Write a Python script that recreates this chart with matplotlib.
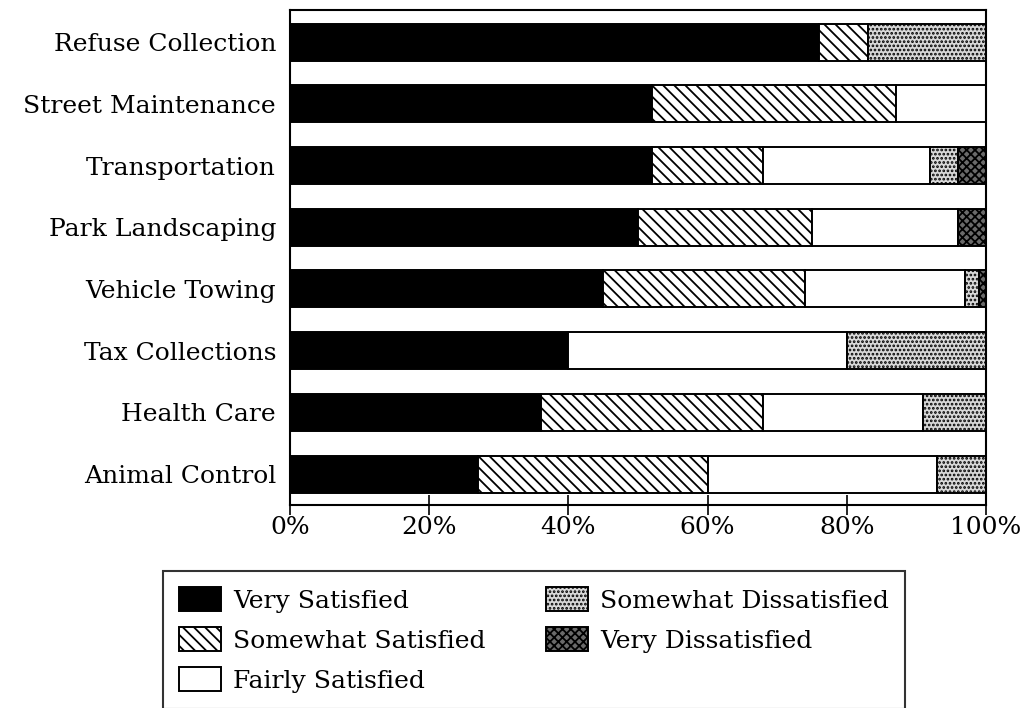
import matplotlib
matplotlib.use("Agg")
import matplotlib.pyplot as plt
from matplotlib.patches import Patch
import numpy as np

plt.rcParams['hatch.linewidth'] = 1.3
plt.rcParams['font.family'] = ['DejaVu Serif']

services = ["Refuse Collection", "Street Maintenance", "Transportation",
            "Park Landscaping", "Vehicle Towing", "Tax Collections",
            "Health Care", "Animal Control"]

very_satisfied = [76, 52, 52, 50, 45, 40, 36, 27]
somewhat_satisfied = [7, 35, 16, 25, 29, 0, 32, 33]
fairly_satisfied = [0, 13, 24, 21, 23, 40, 23, 33]
somewhat_dissatisfied = [17, 0, 4, 0, 2, 20, 9, 7]
very_dissatisfied = [0, 0, 4, 4, 1, 0, 0, 0]

categories = ["Very Satisfied", "Somewhat Satisfied", "Fairly Satisfied",
              "Somewhat Dissatisfied", "Very Dissatisfied"]
tick_values = [0, 20, 40, 60, 80, 100]

series = [very_satisfied, somewhat_satisfied, fairly_satisfied,
          somewhat_dissatisfied, very_dissatisfied]
styles = [
    dict(facecolor="black", hatch=None),
    dict(facecolor="white", hatch="\\\\\\"),
    dict(facecolor="white", hatch=None),
    dict(facecolor="#d8d8d8", hatch="...."),
    dict(facecolor="#6a6a6a", hatch="xxxx"),
]

FS = 18

fig = plt.figure(figsize=(10.36, 7.08), dpi=100)
ax = fig.add_axes([290 / 1036, 1 - 505 / 708, 696 / 1036, 495 / 708])

y = np.arange(len(services))
left = np.zeros(len(services))
for vals, st in zip(series, styles):
    vals = np.array(vals, dtype=float)
    ax.barh(y, vals, left=left, height=0.6, facecolor=st["facecolor"],
            hatch=st["hatch"], edgecolor="black", linewidth=1.4)
    left += vals

ax.set_xlim(0, 100)
ax.set_ylim(len(services) - 0.5, -0.52)
ax.set_yticks(y)
ax.set_yticklabels(services, fontsize=FS)
ax.tick_params(axis="y", length=0, pad=10)
ax.set_xticks(tick_values)
ax.set_xticklabels([f"{v}%" for v in tick_values], fontsize=FS)
ax.tick_params(axis="x", direction="inout", length=14, width=1.2, pad=1)
for s in ax.spines.values():
    s.set_linewidth(1.5)
    s.set_color("black")

handles = [Patch(facecolor=st["facecolor"], hatch=st["hatch"],
                 edgecolor="black", linewidth=1.4) for st in styles]
leg = fig.legend(handles, categories, ncol=2, loc="upper left",
                 bbox_to_anchor=(163 / 1036, 1 - 571 / 708),
                 fontsize=FS, frameon=True, fancybox=False,
                 edgecolor="black", handlelength=1.68, handleheight=1.1,
                 handletextpad=0.48, columnspacing=2.4, labelspacing=0.58,
                 borderpad=0.65, borderaxespad=0)
leg.get_frame().set_linewidth(1.5)

fig.savefig("out.png", dpi=100, facecolor="white")
